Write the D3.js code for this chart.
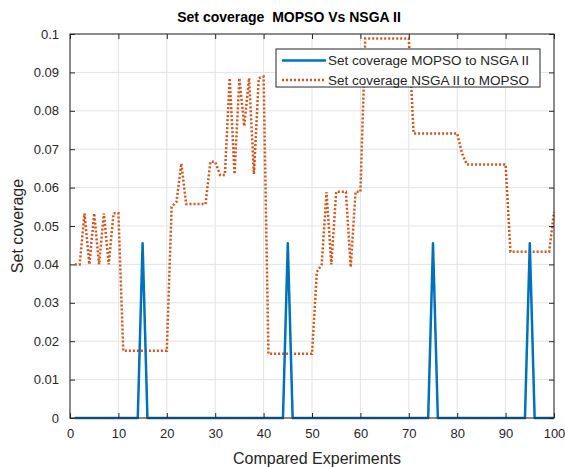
<!DOCTYPE html>
<html>
<head>
<meta charset="utf-8">
<script src="https://cdn.jsdelivr.net/npm/d3@7"></script>
<style>
  body { margin: 0; background: #fff; }
  svg { display: block; font-family: "Liberation Sans", Arial, sans-serif; }
</style>
</head>
<body>
<svg id="chart" width="565" height="467"></svg>
<script>
// experiment index 1..100
const experiments = d3.range(1, 101);

// set coverage MOPSO -> NSGA II (blue, solid)
const mopsoToNsga = [
  0, 0, 0, 0, 0, 0, 0, 0, 0, 0,
  0, 0, 0, 0, 0.0455, 0, 0, 0, 0, 0,
  0, 0, 0, 0, 0, 0, 0, 0, 0, 0,
  0, 0, 0, 0, 0, 0, 0, 0, 0, 0,
  0, 0, 0, 0, 0.0455, 0, 0, 0, 0, 0,
  0, 0, 0, 0, 0, 0, 0, 0, 0, 0,
  0, 0, 0, 0, 0, 0, 0, 0, 0, 0,
  0, 0, 0, 0, 0.0455, 0, 0, 0, 0, 0,
  0, 0, 0, 0, 0, 0, 0, 0, 0, 0,
  0, 0, 0, 0, 0.0455, 0, 0, 0, 0, 0
];

// set coverage NSGA II -> MOPSO (orange, dotted)
const nsgaToMopso = [
  0.04, 0.04, 0.0533, 0.04, 0.0533, 0.04, 0.0533, 0.04, 0.0533, 0.0533,
  0.0175, 0.0175, 0.0175, 0.0175, 0.0175, 0.0175, 0.0175, 0.0175, 0.0175, 0.0175,
  0.055, 0.0563, 0.0663, 0.0557, 0.0557, 0.0557, 0.0557, 0.0557, 0.0667, 0.0667,
  0.0633, 0.0633, 0.0885, 0.0635, 0.0885, 0.076, 0.0885, 0.0635, 0.0885, 0.0889,
  0.0167, 0.0167, 0.0167, 0.0167, 0.0167, 0.0167, 0.0167, 0.0167, 0.0167, 0.0167,
  0.038, 0.04, 0.0588, 0.04, 0.0589, 0.0589, 0.0589, 0.0393, 0.0589, 0.0589,
  0.0988, 0.0988, 0.0988, 0.0988, 0.0988, 0.0988, 0.0988, 0.0988, 0.0988, 0.0988,
  0.0741, 0.0741, 0.0741, 0.0741, 0.0741, 0.0741, 0.0741, 0.0741, 0.0741, 0.0741,
  0.0689, 0.066, 0.066, 0.066, 0.066, 0.066, 0.066, 0.066, 0.066, 0.066,
  0.0433, 0.0433, 0.0433, 0.0433, 0.0433, 0.0433, 0.0433, 0.0433, 0.0433, 0.0537
];

const xTicks = d3.range(0, 101, 10);
const yTicks = d3.range(0, 11).map((d) => d / 100);
const seriesNames = ["Set coverage MOPSO to NSGA II", "Set coverage NSGA II to MOPSO"];

const margin = { top: 34, right: 11, bottom: 49, left: 70 };
const width = 565 - margin.left - margin.right;
const height = 467 - margin.top - margin.bottom;

const svg = d3.select("#chart");
const chart = svg.append("g").attr("transform", `translate(${margin.left},${margin.top})`);

const x = d3.scaleLinear().domain([0, 100]).range([0, width]);
const y = d3.scaleLinear().domain([0, 0.1]).range([height, 0]);

// grid
chart.append("g")
  .selectAll("line.vgrid")
  .data(xTicks)
  .join("line")
  .attr("x1", (d) => x(d)).attr("x2", (d) => x(d))
  .attr("y1", 0).attr("y2", height)
  .attr("stroke", "#e3e3e3");
chart.append("g")
  .selectAll("line.hgrid")
  .data(yTicks)
  .join("line")
  .attr("y1", (d) => y(d)).attr("y2", (d) => y(d))
  .attr("x1", 0).attr("x2", width)
  .attr("stroke", "#e3e3e3");

// lines
const line = (vals) => d3.line()
  .x((d, i) => x(experiments[i]))
  .y((d) => y(d))(vals);

chart.append("path")
  .attr("d", line(nsgaToMopso))
  .attr("fill", "none")
  .attr("stroke", "#D95319")
  .attr("stroke-width", 2.5)
  .attr("stroke-dasharray", "2,2");

chart.append("path")
  .attr("d", line(mopsoToNsga))
  .attr("fill", "none")
  .attr("stroke", "#0072BD")
  .attr("stroke-width", 2.5)
  .attr("stroke-linejoin", "round");

// axes (ticks inside, box)
const axisColor = "#262626";
const styleAxis = (g) => {
  g.select(".domain").remove();
  g.selectAll("line").attr("stroke", axisColor);
  g.selectAll("text").attr("fill", axisColor).style("font-size", "13px");
};

chart.append("g")
  .attr("transform", `translate(0,${height})`)
  .call(d3.axisBottom(x).tickValues(xTicks).tickSizeInner(-5).tickSizeOuter(0).tickPadding(11))
  .call(styleAxis);
chart.append("g")
  .call(d3.axisTop(x).tickValues(xTicks).tickSizeInner(-5).tickSizeOuter(0).tickFormat(""))
  .call(styleAxis);
chart.append("g")
  .call(d3.axisLeft(y).tickValues(yTicks).tickSizeInner(-5).tickSizeOuter(0).tickPadding(11)
    .tickFormat((d) => d3.format("~g")(+d.toFixed(2))))
  .call(styleAxis);
chart.append("g")
  .attr("transform", `translate(${width},0)`)
  .call(d3.axisRight(y).tickValues(yTicks).tickSizeInner(-5).tickSizeOuter(0).tickFormat(""))
  .call(styleAxis);

chart.append("rect")
  .attr("width", width).attr("height", height)
  .attr("fill", "none").attr("stroke", axisColor).attr("stroke-width", 1);

// legend
const legend = chart.append("g").attr("transform", `translate(${276 - margin.left},${49 - margin.top})`);
legend.append("rect")
  .attr("width", 264).attr("height", 38)
  .attr("fill", "#fff").attr("stroke", axisColor).attr("stroke-width", 1);
const legendStyles = [
  { color: "#0072BD", dash: null },
  { color: "#D95319", dash: "2,2" }
];
seriesNames.forEach((name, i) => {
  const yy = 11.5 + i * 19.5;
  legend.append("line")
    .attr("x1", 6).attr("x2", 50).attr("y1", yy).attr("y2", yy)
    .attr("stroke", legendStyles[i].color)
    .attr("stroke-width", 2.5)
    .attr("stroke-dasharray", legendStyles[i].dash);
  legend.append("text")
    .attr("x", 52).attr("y", yy).attr("dy", "0.35em")
    .attr("fill", axisColor)
    .style("font-size", "13.5px")
    .text(name);
});

// title and labels
svg.append("text")
  .attr("x", 289).attr("y", 22)
  .attr("text-anchor", "middle")
  .attr("fill", "#000")
  .style("font-size", "14px").style("font-weight", "bold")
  .style("white-space", "pre")
  .text("Set coverage  MOPSO Vs NSGA II");

svg.append("text")
  .attr("x", 317).attr("y", 464)
  .attr("text-anchor", "middle")
  .attr("fill", axisColor)
  .style("font-size", "16px")
  .text("Compared Experiments");

svg.append("text")
  .attr("transform", `translate(23,${margin.top + height / 2}) rotate(-90)`)
  .attr("text-anchor", "middle")
  .attr("fill", axisColor)
  .style("font-size", "16px")
  .text("Set coverage");
</script>
</body>
</html>
